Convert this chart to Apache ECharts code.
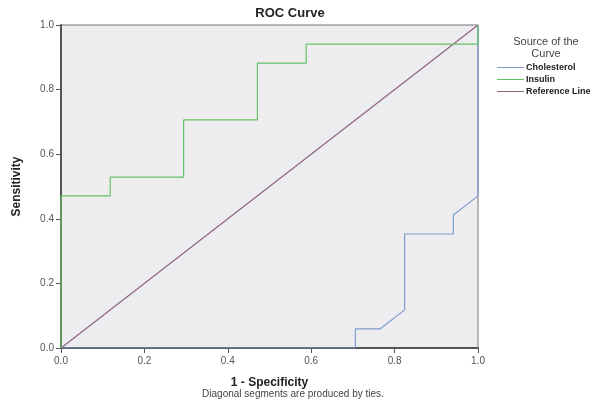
<!DOCTYPE html>
<html>
<head>
<meta charset="utf-8">
<script src="https://cdn.jsdelivr.net/npm/echarts@6/dist/echarts.min.js"></script>
<style>
  html, body { margin: 0; padding: 0; background: #fff; }
  #chart { width: 601px; height: 418px; }
</style>
</head>
<body>
<div id="chart"></div>
<script>
// 1 - specificity / sensitivity pairs
const cholesterolX = [0, 0.706, 0.706, 0.765, 0.824, 0.824, 0.941, 0.941, 1, 1];
const cholesterolY = [0, 0, 0.059, 0.059, 0.118, 0.353, 0.353, 0.412, 0.471, 1];
const insulinX = [0, 0, 0.118, 0.118, 0.294, 0.294, 0.471, 0.471, 0.588, 0.588, 1, 1];
const insulinY = [0, 0.471, 0.471, 0.529, 0.529, 0.706, 0.706, 0.882, 0.882, 0.941, 0.941, 1];
const referenceX = [0, 1];
const referenceY = [0, 1];
const seriesNames = ["Cholesterol", "Insulin", "Reference Line"];
const seriesColors = ["#7f9cd0", "#66c266", "#8e6484"];

const pairs = (xs, ys) => xs.map((x, i) => [x, ys[i]]);

const chart = echarts.init(document.getElementById("chart"));
const font = "Liberation Sans, Arial, sans-serif";

chart.setOption({
  animation: false,
  backgroundColor: "#fff",
  title: [
    {
      text: "ROC Curve",
      left: 285,
      top: 2,
      textAlign: "center",
      textStyle: { fontFamily: font, fontSize: 13, fontWeight: "bold", color: "#222" },
    },
    {
      text: "Source of the\nCurve",
      left: 541,
      top: 31,
      textAlign: "center",
      textStyle: { fontFamily: font, fontSize: 11, fontWeight: "normal", color: "#444", lineHeight: 12 },
    },
    {
      text: "Diagonal segments are produced by ties.",
      left: 288,
      top: 384,
      textAlign: "center",
      textStyle: { fontFamily: font, fontSize: 10, fontWeight: "normal", color: "#444" },
    },
  ],
  legend: {
    orient: "vertical",
    left: 492,
    top: 58,
    itemGap: 3,
    itemWidth: 27,
    itemHeight: 9,
    icon: "path://M0,4.5 L27,4.5 L27,5.5 L0,5.5 Z",
    data: seriesNames.map((n, i) => ({
      name: n,
      itemStyle: { color: seriesColors[i] },
      lineStyle: { color: seriesColors[i] },
    })),
    textStyle: { fontFamily: font, fontSize: 9, fontWeight: "bold", color: "#222", padding: [0, 0, 0, -3] },
  },
  grid: {
    left: 61,
    right: 123,
    top: 25,
    bottom: 70,
    show: true,
    backgroundColor: "#ededf0",
    borderColor: "#777",
    borderWidth: 1,
  },
  xAxis: {
    type: "value",
    min: 0,
    max: 1,
    interval: 0.2,
    name: "1 - Specificity",
    nameLocation: "middle",
    nameGap: 29,
    nameTextStyle: { fontFamily: font, fontSize: 12, fontWeight: "bold", color: "#222" },
    axisLine: { show: true, lineStyle: { color: "#555", width: 2 } },
    axisTick: { show: true, inside: false, length: 5, lineStyle: { color: "#555" } },
    axisLabel: { fontFamily: font, fontSize: 10, color: "#555", margin: 8, formatter: (v) => v.toFixed(1) },
    splitLine: { show: false },
  },
  yAxis: {
    type: "value",
    min: 0,
    max: 1,
    interval: 0.2,
    name: "Sensitivity",
    nameLocation: "middle",
    nameGap: 38,
    nameTextStyle: { fontFamily: font, fontSize: 12, fontWeight: "bold", color: "#222" },
    axisLine: { show: true, lineStyle: { color: "#555", width: 2 } },
    axisTick: { show: true, inside: false, length: 5, lineStyle: { color: "#555" } },
    axisLabel: { fontFamily: font, fontSize: 10, color: "#555", margin: 7, formatter: (v) => v.toFixed(1) },
    splitLine: { show: false },
  },
  series: seriesNames.map((name, i) => ({
    name,
    type: "line",
    data: [pairs(cholesterolX, cholesterolY), pairs(insulinX, insulinY), pairs(referenceX, referenceY)][i],
    symbol: "none",
    color: seriesColors[i],
    lineStyle: { width: 1.2 },
    z: i === 2 ? 2 : 3,
  })),
});
</script>
</body>
</html>
